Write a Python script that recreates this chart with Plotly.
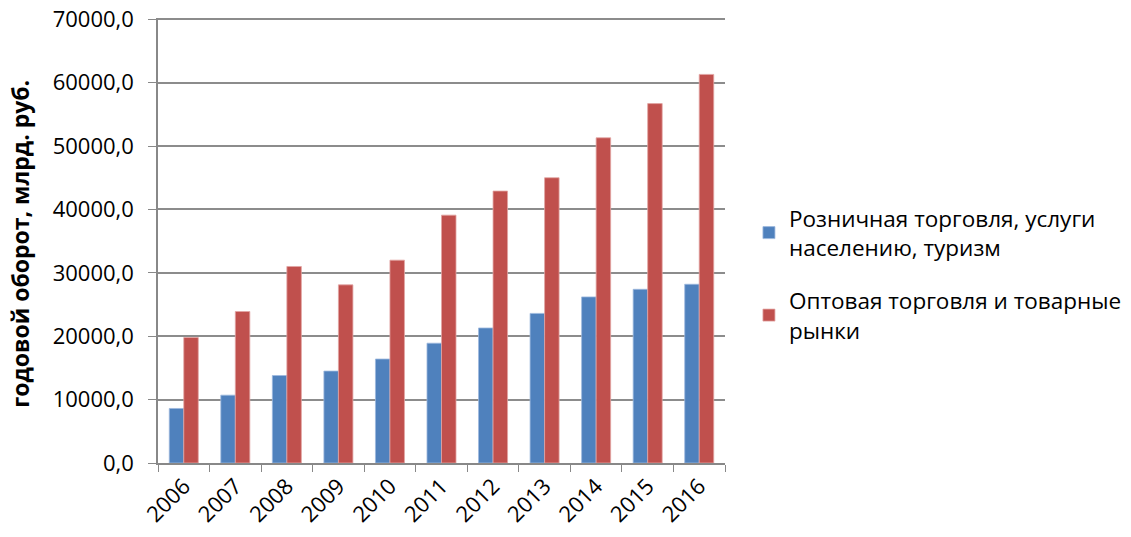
import plotly.graph_objects as go

years = ["2006", "2007", "2008", "2009", "2010", "2011", "2012", "2013", "2014", "2015", "2016"]
retail = [8600, 10700, 13800, 14500, 16400, 18900, 21300, 23600, 26200, 27400, 28200]
wholesale = [19800, 23900, 31000, 28100, 32000, 39100, 42900, 45000, 51300, 56700, 61300]
series_names = ["Розничная торговля, услуги<br>населению, туризм",
                "Оптовая торговля и товарные<br>рынки"]
y_title = "годовой оборот, млрд. руб."

FONT = "Open Sans"

fig = go.Figure()
fig.add_trace(go.Bar(x=years, y=retail, name=series_names[0], legendgroup="a",
                     marker=dict(color="#4F81BD", line=dict(color="#9DB9DE", width=0.8))))
fig.add_trace(go.Bar(x=years, y=wholesale, name=series_names[1], legendgroup="b",
                     marker=dict(color="#C0504D", line=dict(color="#E2A5A3", width=0.8))))

fig.update_layout(
    width=1131, height=537,
    margin=dict(l=158, r=406, t=18, b=74),
    paper_bgcolor="white", plot_bgcolor="white",
    separators=", ",
    barmode="group", bargap=0.437, bargroupgap=0,
    font=dict(family=FONT, color="#000000"),
    legend=dict(xref="container", yref="container", x=0.6622, y=0.49,
                xanchor="left", yanchor="middle",
                font=dict(size=22.5, family=FONT), tracegroupgap=21,
                itemwidth=30, bgcolor="rgba(0,0,0,0)"),
    showlegend=True,
    annotations=[dict(text="<b>" + y_title + "</b>", xref="paper", yref="paper",
                      x=-0.2434, y=0.4926, xanchor="center", yanchor="middle",
                      textangle=-90, showarrow=False,
                      font=dict(size=23, family=FONT, color="#000000"))],
)
fig.update_xaxes(
    type="category", tickangle=-45, tickson="boundaries",
    ticks="outside", ticklen=7, tickcolor="#888888",
    showline=True, linecolor="#888888", linewidth=1.5,
    tickfont=dict(size=22, family=FONT), showgrid=False, automargin=False,
    ticklabeloverflow="allow",
)
fig.update_yaxes(
    range=[0, 70200], tickvals=[0, 10000, 20000, 30000, 40000, 50000, 60000, 70000],
    tickformat=".1f",
    ticks="outside", ticklen=8, tickcolor="#888888",
    showline=True, linecolor="#888888", linewidth=1.5,
    showgrid=True, gridcolor="#8C8C8C", gridwidth=1.5,
    tickfont=dict(size=22, family=FONT), ticklabelstandoff=10,
    ticklabeloverflow="allow",
    zeroline=False, automargin=False,
)

fig.write_html("out.html", config={"displayModeBar": False},
               post_script="document.body.style.margin='0';")
